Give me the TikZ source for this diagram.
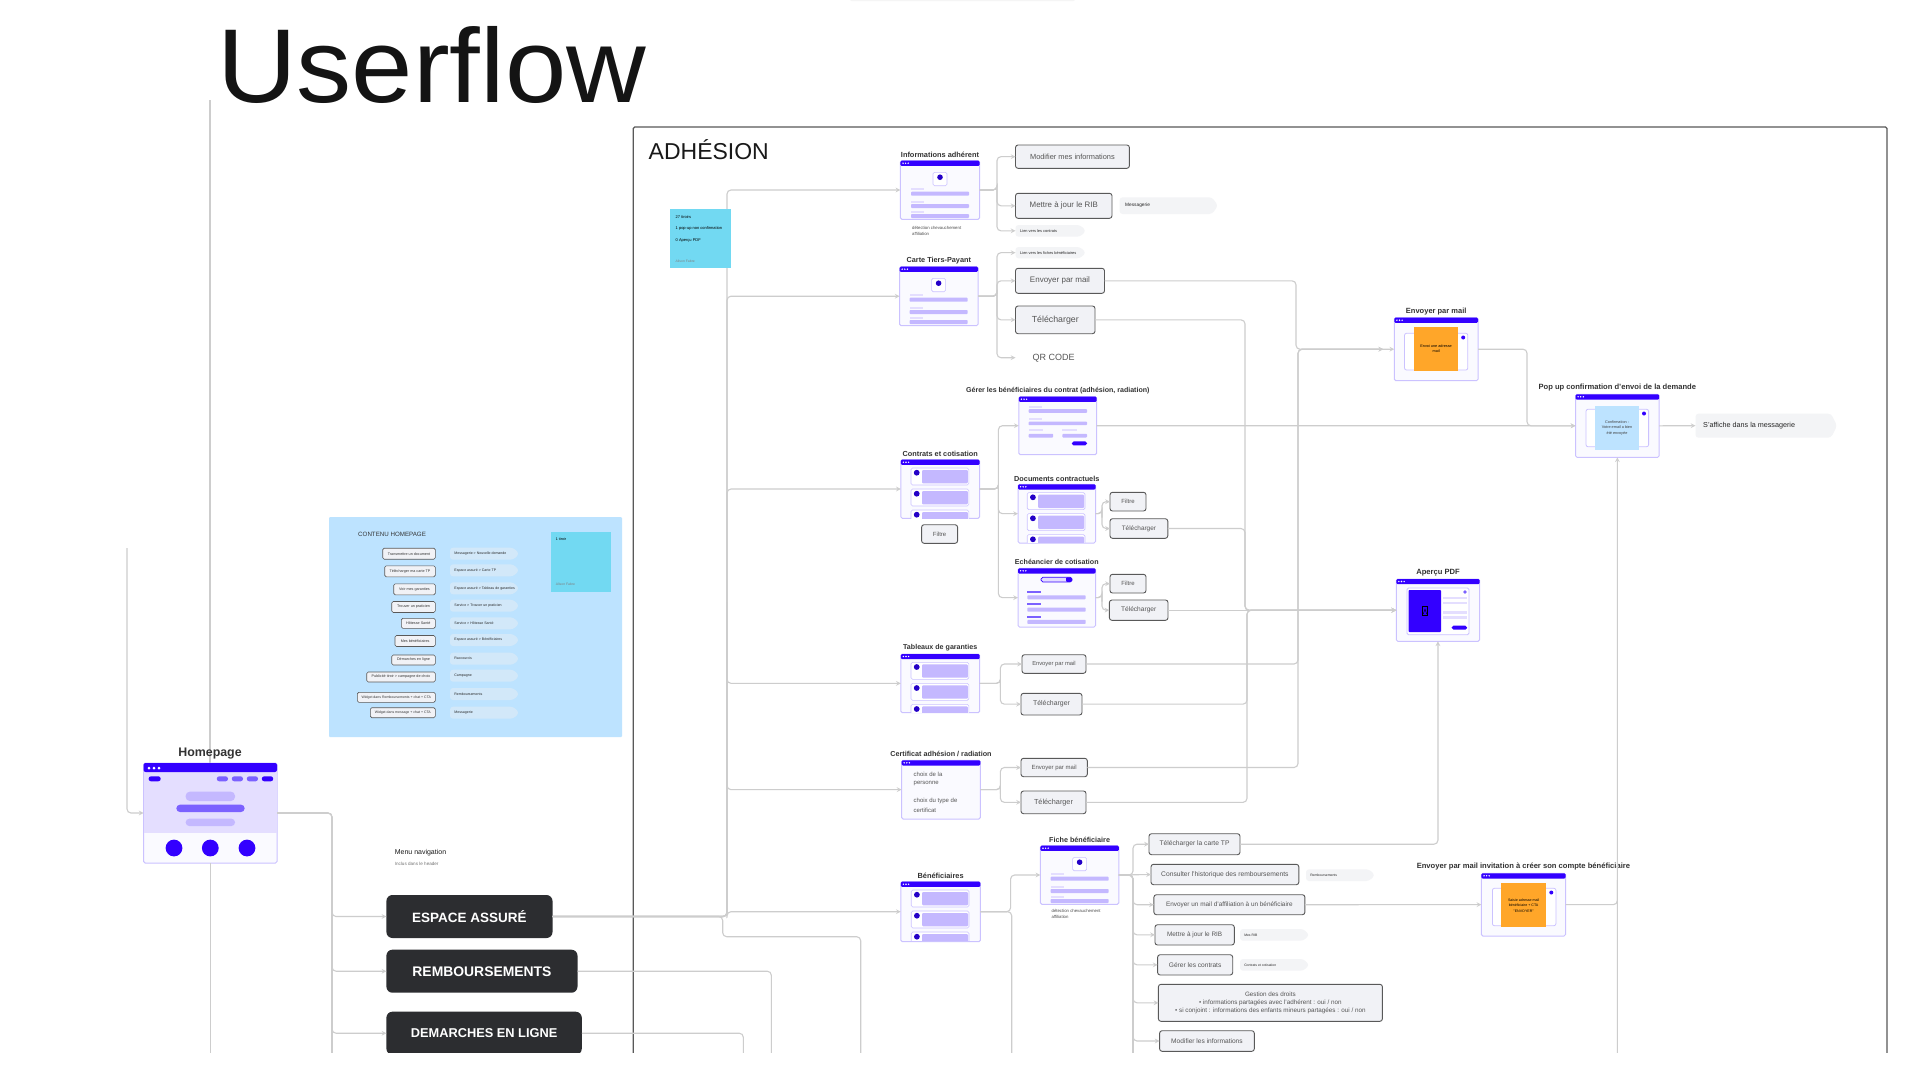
\documentclass[tikz,border=0pt]{standalone}
\usepackage{fontspec}
\setmainfont{Liberation Sans}
\usetikzlibrary{positioning}
\definecolor{violet}{HTML}{3300FF}
\definecolor{violetb}{HTML}{7B61FF}
\definecolor{violetc}{HTML}{C4B8FF}
\definecolor{violetd}{HTML}{E4DEFF}
\definecolor{dotdark}{HTML}{2400C8}
\definecolor{bordw}{HTML}{CBC2FF}
\definecolor{fondw}{HTML}{FAFAFF}
\definecolor{trait}{HTML}{CDCDCD}
\definecolor{sombre}{HTML}{2C2D30}
\definecolor{gristxt}{HTML}{555555}
\definecolor{fondbtn}{HTML}{F1F2F6}
\definecolor{fondchip}{HTML}{F3F4F6}
\definecolor{bleupan}{HTML}{BDE3FF}
\definecolor{bleuchip}{HTML}{D2E8F9}
\definecolor{note}{HTML}{72D9F2}
\definecolor{orange}{HTML}{FFA629}
\newcommand{\fs}[1]{\fontsize{#1}{#1}\selectfont}
\tikzset{
 flow/.style={draw=trait, line width=1.1pt, rounded corners=4pt},
 wnode/.style={draw=bordw, fill=fondw, line width=1pt, rounded corners=1.5pt, inner sep=0pt, outer sep=0pt},
 wtitle/.style={text=black!80, inner sep=0pt},
 btn/.style={draw=black!65, fill=fondbtn, text=gristxt, line width=.9pt, rounded corners=2.5pt, inner sep=0pt, outer sep=0pt, align=center},
 btnp/.style={btn, line width=.6pt, rounded corners=1.5pt, text=black!80},
 dark/.style={fill=sombre, text=white, rounded corners=6pt, inner sep=0pt, outer sep=0pt},
 petit/.style={inner sep=0pt, anchor=west, align=left},
}
\newcommand{\boite}[8][btn]{
 \node[#1, minimum width={(#5-#3)*1pt}, minimum height={(#6-#4)*1pt}, font=\fs{#7}] (#2) at ({(#3+#5)/2},{(#4+#6)/2}) {#8};
}
\newcommand{\chip}[8]{
 \fill[#6, rounded corners=3pt] (#2,#3)--({#4-6},#3)--(#4,{(#3+#5)/2})--({#4-6},#5)--(#2,#5)--cycle;
 \coordinate (#1) at (#2,{(#3+#5)/2});
 \node[petit, font=\fs{#7}, text=black!85] (#1t) at ({#2+#7*.9+1},{(#3+#5)/2}) {#8};
}
\newcommand{\wframe}[5]{
 \node[wnode, minimum width={(#4-#2)*1pt}, minimum height={(#5-#3)*1pt}] (#1) at ({(#2+#4)/2},{(#3+#5)/2}) {};
 \fill[violet, rounded corners=1.2pt] (#2,{#3+5.2}) rectangle (#4,#3);
 \foreach \d in {2.6,5.2,7.8}
 {
     \fill[white] ({#2+\d},{#3+2.5}) circle (.8);
 }
}
\newcommand{\wtit}[5][7.3]{
 \node[wtitle, font=\bfseries\fs{#1}] (#2t) at (#3,#4) {#5};
}
\newcommand{\wprofil}[2]{
 \begin{scope}[shift={(#1,#2)}]
 \draw[bordw, line width=.6pt, fill=white, rounded corners=1.5pt] (32.6,11.6) rectangle (46.6,25);
 \fill[dotdark] (39.6,16.5) circle (2.8);
 \foreach \y in {27.6,40,50}
 {
     \fill[violetd] (10.6,\y) rectangle (24,{\y+2});
 }
 \foreach \y in {33,45.3,55.3}
 {
     \fill[violetc, rounded corners=.8pt] (10.6,{\y-2}) rectangle (68.6,{\y+2});
 }
 \end{scope}
}
\newcommand{\wliste}[2]{
 \begin{scope}[shift={(#1,#2)}]
 \clip (0,0) rectangle (79,58.6);
 \foreach \y in {8.3,29.3,50.3}
 {
     \draw[bordw, line width=.6pt, fill=white, rounded corners=1.5pt] (10.2,\y) rectangle (68,{\y+17});
     \fill[violetc, rounded corners=1pt] (21.2,{\y+2}) rectangle (67,{\y+15.4});
     \fill[dotdark] (15.9,{\y+4.7}) circle (2.9);
 }
 \end{scope}
}
\newcommand{\wform}[2]{
 \begin{scope}[shift={(#1,#2)}]
 \foreach \y in {9.3,21.7}
 {
     \fill[violetd] (9.8,\y) rectangle (23.3,{\y+2});
 }
 \foreach \y in {14.3,26.7}
 {
     \fill[violetc, rounded corners=.8pt] (9.8,{\y-1.8}) rectangle (68.2,{\y+1.8});
 }
 \fill[violetd] (9.8,32.3) rectangle (24.5,34.3);
 \fill[violetd] (43.6,32.3) rectangle (57.9,34.3);
 \fill[violetc, rounded corners=.8pt] (9.8,37.2) rectangle (34.4,40.8);
 \fill[violetc, rounded corners=.8pt] (43.6,37.2) rectangle (68.2,40.8);
 \fill[violet, rounded corners=1.8pt] (53,44.7) rectangle (68.2,48.7);
 \end{scope}
}
\newcommand{\wecheance}[2]{
 \begin{scope}[shift={(#1,#2)}]
 \draw[violet, line width=.8pt, fill=violetd, rounded corners=1.8pt] (23,9) rectangle (54,13.6);
 \fill[violet, rounded corners=1pt] (48,9) rectangle (54,13.6);
 \foreach \y in {23.7,36,48.3}
 {
     \fill[violetb] (9.3,{\y-1}) rectangle (22.8,{\y+1});
     \fill[violetc, rounded corners=.8pt] (9.3,{\y+3.3}) rectangle (67.7,{\y+7.3});
 }
 \end{scope}
}
% fenetre avec une modale au milieu
\newcommand{\wmodale}[9]{
 \draw[bordw, line width=.8pt, fill=white, rounded corners=2pt] (#1,#2) rectangle (#3,#4);
 \fill[#9] (#5,#6) rectangle (#7,#8);
 \fill[violet] ({#3-4.6},{#2+4.2}) circle (2);
}
\begin{document}
\begin{tikzpicture}[x=1pt, y=-1pt, >=stealth]
 \useasboundingbox (0,0) rectangle (1920,1080);
 \fill[white] (0,0) rectangle (1920,1080);
 \fill[black!4, rounded corners=2pt] (850,-3) rectangle (1075,1.2);
 \node[anchor=base west, inner sep=0pt, font=\fs{105}, text=black!92] (titre) at (217,102) {\scalebox{1.05}[1]{Userflow}};
 \begin{scope}
 \clip (0,0) rectangle (1920,1052);
 \draw[black!65, line width=1.2pt, rounded corners=1.5pt] (633.3,1060) -- (633.3,127) -- (1887,127) -- (1887,1060);
 \node[anchor=base west, inner sep=0pt, font=\fs{23}, text=black!90] (adh) at (648.5,159.3) {ADHÉSION};

 \coordinate (hpup) at (210,100);
 \coordinate (hptop) at (210,763);
 \draw[flow] (hpup) -- (hptop);
 \node[wtitle, font=\bfseries\fs{12.4}] (hpt) at (210,753.6) {Homepage};
 \node[wnode, minimum width=133.4pt, minimum height=100pt] (hp) at (210.3,813) {};
 \fill[violetd] (143.6,772) rectangle (277,833);
 \fill[violet, rounded corners=2pt] (143.6,772) -- (143.6,763) -- (277,763) -- (277,772) -- cycle;
 \foreach \d in {149,154,159}
 {
     \fill[white] (\d,768) circle (1.5);
 }
 \fill[violet, rounded corners=2.4pt] (148.6,776.3) rectangle (160.7,781.3);
 \foreach \d in {216.8,231.8,246.8}
 {
     \fill[violetb, rounded corners=2.4pt] (\d,776.3) rectangle ({\d+11.2},781.3);
 }
 \fill[violet, rounded corners=2.4pt] (261.8,776.3) rectangle (273.2,781.3);
 \fill[violetc, rounded corners=4pt] (185.7,791.7) rectangle (235,801);
 \fill[violetb, rounded corners=3.5pt] (176.4,804.7) rectangle (244.6,812);
 \fill[violetc, rounded corners=3.5pt] (185.7,818.7) rectangle (235,826);
 \foreach \d in {174,210.3,247}
 {
     \fill[violet] (\d,848) circle (8.4);
 }

 \fill[bleupan, rounded corners=1pt] (329,517) rectangle (622,737);
 \node[petit, font=\fs{6.2}, text=black!80] (cont) at (358,534.5) {CONTENU HOMEPAGE};
 \boite[btnp]{p1}{382.7}{548.2}{435.3}{559.2}{3.7}{Transmettre un document}
 \boite[btnp]{p2}{384.7}{565.8}{435.3}{576.8}{3.7}{Télécharger ma carte TP}
 \boite[btnp]{p3}{393.7}{583.8}{435.3}{594.8}{3.7}{Voir mes garanties}
 \boite[btnp]{p4}{391.7}{601.5}{435.3}{612.5}{3.7}{Trouver un praticien}
 \boite[btnp]{p5}{401.3}{618.3}{435.3}{628.3}{3.7}{Hôtesse Santé}
 \boite[btnp]{p6}{395}{635.5}{435.3}{646.5}{3.7}{Mes bénéficiaires}
 \boite[btnp]{p7}{391.7}{655}{435.3}{665}{3.7}{Démarches en ligne}
 \boite[btnp]{p8}{366.7}{672}{435.3}{682}{3.7}{Publicité tiroir > campagne de choix}
 \boite[btnp]{p9}{357.3}{692.3}{435.3}{702.3}{3.5}{Widget dans Remboursements + chat + CTA}
 \boite[btnp]{p10}{370.3}{707.7}{435.3}{717.7}{3.5}{Widget dans message + chat + CTA}
 \chip{c1}{450}{547.7}{519.3}{559.7}{bleuchip}{3.55}{Messagerie > Nouvelle demande}
 \chip{c2}{450}{564.3}{519.3}{576.3}{bleuchip}{3.55}{Espace assuré > Carte TP}
 \chip{c3}{450}{582.3}{519.3}{594.3}{bleuchip}{3.55}{Espace assuré > Tableau de garanties}
 \chip{c4}{450}{599.7}{519.3}{611.7}{bleuchip}{3.55}{Service > Trouver un praticien}
 \chip{c5}{450}{617.3}{519.3}{629.3}{bleuchip}{3.55}{Service > Hôtesse Santé}
 \chip{c6}{450}{634}{519.3}{646}{bleuchip}{3.55}{Espace assuré > Bénéficiaires}
 \chip{c7}{450}{652.7}{519.3}{664.7}{bleuchip}{3.55}{Raccourcis}
 \chip{c8}{450}{669.7}{519.3}{681.7}{bleuchip}{3.55}{Campagne}
 \chip{c9}{450}{688}{519.3}{700}{bleuchip}{3.55}{Remboursements}
 \chip{c10}{450}{706.7}{519.3}{718.7}{bleuchip}{3.55}{Messagerie}
 \fill[note] (550.7,531.7) rectangle (610.7,591.7);
 \node[petit, font=\fs{3.7}] (n2a) at (555.7,539.3) {1 tiroir};
 \node[petit, font=\fs{3.4}, text=black!50] (n2b) at (555.7,584) {Alison Fabre};

 \node[petit, font=\fs{7}, text=black!90] (menu) at (394.6,852.4) {Menu navigation};
 \node[petit, font=\fs{4.6}, text=black!55] (menus) at (394.6,863.4) {Inclus dans le header};
 \boite[dark]{bEsp}{386.4}{895}{552.5}{938}{13.5}{\bfseries ESPACE ASSURÉ}
 \boite[dark]{bRem}{386.4}{949.7}{577.5}{992.7}{13.9}{\bfseries REMBOURSEMENTS}
 \boite[dark]{bDem}{386.4}{1011.7}{581.8}{1054.7}{12.8}{\bfseries DEMARCHES EN LIGNE}

 \wframe{wInfo}{900.4}{160.7}{979.6}{219.3}
 \wtit[7.4]{wInfo}{940}{154.6}{Informations adhérent}
 \wprofil{900.4}{160.7}
 \node[petit, font=\fs{4.3}, text=black!70] (capa) at (912,228) {détection chevauchement};
 \node[petit, font=\fs{4.3}, text=black!70] (capb) at (912,234) {affiliation};
 \boite{bModif}{1015.5}{145}{1129.4}{168.3}{7.4}{Modifier mes informations}
 \boite{bRib}{1015.5}{193.3}{1112}{218.3}{7.9}{Mettre à jour le RIB}
 \chip{cMess}{1119.6}{197.3}{1218}{214}{fondchip}{4.8}{Messagerie}
 \chip{cLien}{1015.5}{225}{1086}{236.7}{fondchip}{3.9}{Lien vers les contrats}

 \wframe{wCarte}{899.6}{266.7}{978}{325.7}
 \wtit{wCarte}{938.8}{260.7}{Carte Tiers-Payant}
 \wprofil{899}{266.7}
 \chip{cFich}{1015.5}{247}{1086}{258.3}{fondchip}{3.9}{Lien vers les fiches bénéficiaires}
 \boite{bEnv}{1015.5}{268.3}{1104.5}{293.3}{8}{Envoyer par mail}
 \boite{bTel}{1015.5}{306}{1095}{333.7}{8.8}{Télécharger}
 \node[text=gristxt, font=\fs{9}, inner sep=0pt] (qr) at (1053.5,357.7) {QR CODE};
 \coordinate (qrin) at (1015.5,357.7);

 \wframe{wGer}{1018.8}{396.7}{1096.7}{454.7}
 \wtit[7.05]{wGer}{1057.8}{390.6}{Gérer les bénéficiaires du contrat (adhésion, radiation)}
 \wform{1018.8}{396.7}

 \wframe{wCon}{900.8}{459.7}{979.6}{518.3}
 \wtit{wCon}{940.2}{453.6}{Contrats et cotisation}
 \wliste{900.8}{459.7}
 \boite{bConF}{921.6}{524.7}{957.6}{543.3}{6}{Filtre}

 \wframe{wDoc}{1018}{484.3}{1095.5}{543}
 \wtit{wDoc}{1056.8}{478.4}{Documents contractuels}
 \wliste{1017}{484.3}
 \boite{bDocF}{1110}{492.3}{1146}{511}{6}{Filtre}
 \boite{bDocT}{1110}{518.7}{1167.8}{538.3}{6.4}{Télécharger}

 \wframe{wEch}{1018}{568.3}{1095.5}{627}
 \wtit[7.1]{wEch}{1056.8}{562.4}{Echéancier de cotisation}
 \wecheance{1018}{568.3}
 \boite{bEchF}{1110}{574.3}{1146}{593}{6}{Filtre}
 \boite{bEchT}{1109.4}{600}{1168}{620.3}{6.6}{Télécharger}

 \wframe{wTab}{900.8}{654}{979.6}{712.7}
 \wtit[7.1]{wTab}{940.2}{647.8}{Tableaux de garanties}
 \wliste{900.8}{654}
 \boite{bTabE}{1022}{654.7}{1086}{673.3}{5.8}{Envoyer par mail}
 \boite{bTabT}{1021}{693.3}{1082}{715}{6.9}{Télécharger}

 \wframe{wCer}{901.6}{760.3}{980.4}{819}
 \wtit[7.2]{wCer}{941}{754.2}{Certificat adhésion / radiation}
 \node[petit, font=\fs{6}, text=gristxt] (ca) at (913.5,774.3) {choix de la};
 \node[petit, font=\fs{6}, text=gristxt] (cb) at (913.5,783.3) {personne};
 \node[petit, font=\fs{6}, text=gristxt] (cc) at (913.5,801.3) {choix du type de};
 \node[petit, font=\fs{6}, text=gristxt] (cd) at (913.5,810.3) {certificat};
 \boite{bCerE}{1021}{758.3}{1087.3}{776.7}{6}{Envoyer par mail}
 \boite{bCerT}{1021}{791}{1086}{813.7}{7.3}{Télécharger}

 \wframe{wBen}{900.8}{881.7}{980.4}{941.7}
 \wtit[7.4]{wBen}{940.6}{875.7}{Bénéficiaires}
 \wliste{901}{881.7}
 \wframe{wFic}{1040.4}{845.7}{1118.8}{904.3}
 \wtit[7.2]{wFic}{1079.6}{839.7}{Fiche bénéficiaire}
 \wprofil{1040}{845.7}
 \node[petit, font=\fs{4.3}, text=black!70] (cape) at (1051.4,911.3) {détection chevauchement};
 \node[petit, font=\fs{4.3}, text=black!70] (capf) at (1051.4,917.3) {affiliation};
 \boite{bFicT}{1149}{833.7}{1240}{854.7}{6.7}{Télécharger la carte TP}
 \boite{bFicH}{1151}{864.3}{1298.8}{884.7}{6.7}{Consulter l'historique des remboursements}
 \boite{bFicM}{1153.9}{894.7}{1304.9}{914.7}{6.4}{Envoyer un mail d'affiliation à un bénéficiaire}
 \boite{bFicR}{1155}{924.7}{1234.3}{945}{6.4}{Mettre à jour le RIB}
 \boite{bFicC}{1157.6}{954.7}{1232.7}{975}{6.6}{Gérer les contrats}
 \boite{bFicD}{1158.4}{984.3}{1382.4}{1021.3}{6.3}{Gestion des droits\\[1.7pt] • informations partagées avec l'adhérent : oui / non\\[1.7pt] • si conjoint : informations des enfants mineurs partagées : oui / non}
 \boite{bFicI}{1159.6}{1030.7}{1254.3}{1051.3}{6.6}{Modifier les informations}
 \chip{cRem}{1306}{869.3}{1375}{881}{fondchip}{3.4}{Remboursements}
 \chip{cRib}{1240}{929}{1309.4}{940.7}{fondchip}{3.4}{Mes RIB}
 \chip{cCot}{1240}{959}{1309.4}{970.7}{fondchip}{3.4}{Contrats et cotisation}

 \wframe{wEnv}{1394.3}{317.7}{1478}{380.7}
 \wtit[7.5]{wEnv}{1436.2}{311.3}{Envoyer par mail}
 \wmodale{1404.5}{333.3}{1467.8}{370}{1413.9}{327}{1458.4}{370.7}{orange}
 \node[font=\fs{3.8}, inner sep=0pt, align=center] (envt) at (1436.1,348.6) {Envoi une adresse\\[1.5pt] mail};

 \wframe{wPop}{1575.5}{394.3}{1659.2}{457.3}
 \wtit[7.6]{wPop}{1617.3}{387.6}{Pop up confirmation d'envoi de la demande}
 \wmodale{1586}{409.3}{1648.6}{446.7}{1595}{406}{1639}{450}{bleupan}
 \node[font=\fs{3.8}, inner sep=0pt, align=center, text=black!75] (popt) at (1617,428) {Confirmation :\\[2pt] Votre email a bien\\[2pt] été envoyée};
 \chip{cAff}{1695.5}{413.7}{1837}{437.7}{fondchip}{7.2}{S'affiche dans la messagerie}

 \wframe{wPdf}{1396.3}{579}{1479.6}{641.3}
 \wtit[7.6]{wPdf}{1438}{572.6}{Aperçu PDF}
 \draw[bordw, line width=.8pt, fill=white, rounded corners=1.5pt] (1407,588) rectangle (1469,634.7);
 \fill[violet, rounded corners=.8pt] (1408.6,590) rectangle (1441,632);
 \fill[violetb] (1465,592) circle (1.8);
 \foreach \y in {598,603,612.3,617.7}
 {
     \fill[violetd] (1443.4,{\y-1.4}) rectangle (1467.2,{\y+1.4});
 }
 \fill[violet, rounded corners=1.8pt] (1451.7,625.7) rectangle (1467.2,629.7);
 \draw[black, line width=.5pt] (1422.3,606.5) rectangle (1427.6,615);
 \draw[black, line width=.4pt] (1423.3,614) -- (1425,609) -- (1426.6,614);

 \wframe{wInv}{1481.4}{873.3}{1565.5}{936}
 \wtit[7.6]{wInv}{1523.4}{866.4}{Envoyer par mail invitation à créer son compte bénéficiaire}
 \wmodale{1492.4}{888.3}{1555.9}{925.7}{1501.4}{883.3}{1545.9}{927.3}{orange}
 \node[font=\fs{3.6}, inner sep=0pt, align=center] (invt) at (1523.6,905.3) {Saisie adresse mail\\[2pt] bénéficiaire + CTA\\[2pt] "ENVOYER"};

 \coordinate (hpin) at (127,548);
 \draw[flow,->] (hpin) |- (hp.west);
 \coordinate (hpend) at (210.3,1060);
 \draw[flow] (hp.south) -- (hpend);
 \coordinate (hubH) at (332,880);
 \coordinate (hubHb) at (332,1060);
 \draw[flow,->] (hp.east) -| (hubH) |- (bEsp.west);
 \draw[flow,->] (hp.east) -| (hubH) |- (bRem.west);
 \draw[flow,->] (hp.east) -| (hubH) |- (bDem.west);
 \draw[flow] (hubH) -- (hubHb);

 \coordinate (hubA) at (727,600);
 \coordinate (hubAb) at (727,913.5);
 \foreach \w in {wInfo,wCarte,wCon,wTab,wCer}
 {
     \draw[flow,->] (bEsp.east) -| (hubA) |- (\w.west);
 }
 \draw[flow,->] (bEsp.east) -| (hubAb) |- (wBen.west);
 \coordinate (dA) at (722.7,936.7);
 \coordinate (dB) at (860.7,936.7);
 \coordinate (dC) at (860.7,1060);
 \draw[flow] (bEsp.east) -| (dA) -- (dB) -- (dC);
 \coordinate (rEnd) at (771.3,1060);
 \coordinate (dEnd) at (743.3,1060);
 \draw[flow] (bRem.east) -| (rEnd);
 \draw[flow] (bDem.east) -| (dEnd);

 \fill[note] (670,209) rectangle (730.5,268.3);
 \node[petit, font=\fs{4}] (n1a) at (675.5,216.7) {27 tiroirs};
 \node[petit, font=\fs{4}] (n1b) at (675.5,228.7) {1 pop-up non confirmation};
 \node[petit, font=\fs{4}] (n1c) at (675.5,240.3) {0 Aperçu PDF};
 \node[petit, font=\fs{3.4}, text=black!50] (n1d) at (675.5,261.3) {Alison Fabre};

 \coordinate (hInfo) at (997,190);
 \draw[flow,->] (wInfo.east) -| (hInfo) |- (bModif.west);
 \draw[flow,->] (wInfo.east) -| (hInfo) |- (bRib.west);
 \draw[flow,->] (wInfo.east) -| (hInfo) |- (cLien);
 \coordinate (hCarte) at (997,296.2);
 \draw[flow,->] (wCarte.east) -| (hCarte) |- (cFich);
 \draw[flow,->] (wCarte.east) -| (hCarte) |- (bEnv.west);
 \draw[flow,->] (wCarte.east) -| (hCarte) |- (bTel.west);
 \draw[flow,->] (wCarte.east) -| (hCarte) |- (qrin);

 \coordinate (hCon) at (998.4,489);
 \draw[flow,->] (wCon.east) -| (hCon) |- (wGer.west);
 \draw[flow,->] (wCon.east) -| (hCon) |- (wDoc.west);
 \draw[flow,->] (wCon.east) -| (hCon) |- (wEch.west);
 \coordinate (hDoc) at (1102,513.6);
 \draw[flow,->] (wDoc.east) -| (hDoc) |- (bDocF.west);
 \draw[flow,->] (wDoc.east) -| (hDoc) |- (bDocT.west);
 \coordinate (hEch) at (1102,597.6);
 \draw[flow,->] (wEch.east) -| (hEch) |- (bEchF.west);
 \draw[flow,->] (wEch.east) -| (hEch) |- (bEchT.west);
 \coordinate (hTab) at (1000.4,683.3);
 \draw[flow,->] (wTab.east) -| (hTab) |- (bTabE.west);
 \draw[flow,->] (wTab.east) -| (hTab) |- (bTabT.west);
 \coordinate (hCer) at (1000.4,789.6);
 \draw[flow,->] (wCer.east) -| (hCer) |- (bCerE.west);
 \draw[flow,->] (wCer.east) -| (hCer) |- (bCerT.west);

 \coordinate (hMail) at (1296,320);
 \coordinate (hMailb) at (1298,500);
 \draw[flow,->] (bEnv.east) -| (hMail) |- (wEnv.west);
 \draw[flow,->, shorten >=11pt] (bTabE.east) -| (hMailb) |- (wEnv.west);
 \draw[flow,->, shorten >=11pt] (bCerE.east) -| (hMailb) |- (wEnv.west);

 \coordinate (hPdf) at (1245,450);
 \coordinate (hPdfa) at (1245,570);
 \coordinate (hPdfb) at (1247,680);
 \draw[flow,->] (bTel.east) -| (hPdf) |- (wPdf.west);
 \draw[flow,->] (bDocT.east) -| (hPdfa) |- (wPdf.west);
 \draw[flow,->] (bEchT.east) -- (wPdf.west);
 \draw[flow,->] (bTabT.east) -| (hPdfb) |- (wPdf.west);
 \draw[flow,->] (bCerT.east) -| (hPdfb) |- (wPdf.west);
 \draw[flow,->] (bFicT.east) -| (wPdf.south);

 \coordinate (hPop) at (1527,390);
 \draw[flow,->] (wEnv.east) -| (hPop) |- (wPop.west);
 \draw[flow,->] (wGer.east) -- (wPop.west);
 \draw[flow,->] (wPop.east) -- (cAff);
 \coordinate (popEnd) at (1617.35,1060);
 \draw[flow,->] (popEnd) -- (wPop.south);
 \coordinate (hInv) at (1617.35,880);
 \draw[flow] (wInv.east) -| (hInv);

 \coordinate (hBen) at (1010.6,890);
 \coordinate (benEnd) at (1011.7,1060);
 \draw[flow,->] (wBen.east) -| (hBen) |- (wFic.west);
 \draw[flow] (wBen.east) -| (benEnd);

 \coordinate (hFicH) at (1133,860);
 \coordinate (hFic) at (1133,890);
 \coordinate (ficEnd) at (1133,1060);
 \draw[flow,->] (wFic.east) -| (hFicH) |- (bFicT.west);
 \draw[flow,->] (wFic.east) -- (bFicH.west);
 \foreach \b in {bFicM,bFicR,bFicC,bFicD,bFicI}
 {
     \draw[flow,->] (wFic.east) -| (hFic) |- (\b.west);
 }
 \draw[flow] (hFic) -- (ficEnd);
 \draw[flow,->] (bFicM.east) -- (wInv.west);
 \end{scope}
\end{tikzpicture}
\end{document}
